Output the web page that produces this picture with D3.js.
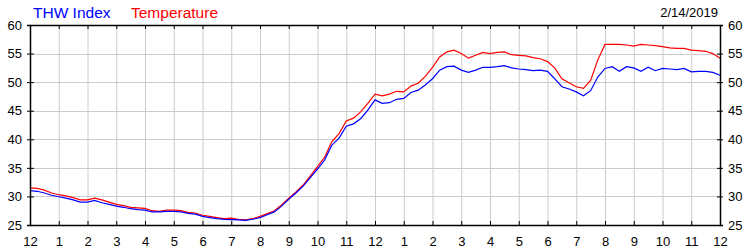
<!DOCTYPE html>
<html>
<head>
<meta charset="utf-8">
<title>THW Index and Temperature</title>
<script src="https://cdnjs.cloudflare.com/ajax/libs/d3/7.8.5/d3.min.js"></script>
<style>
    body { margin: 0; background: #fff; }
    svg text { font-family: Arial, "Liberation Sans", sans-serif; }
</style>
</head>
<body>
<div id="chart"></div>
<script>
    // readings every 15 minutes, midnight to midnight
    var hours = d3.range(0, 24.01, 0.25);
    var tickLabels = ["12", "1", "2", "3", "4", "5", "6", "7", "8", "9", "10", "11",
        "12", "1", "2", "3", "4", "5", "6", "7", "8", "9", "10", "11", "12"];
    var yTicks = [25, 30, 35, 40, 45, 50, 55, 60];

    var temperature = [
        31.5, 31.4, 31.1, 30.6, 30.3, 30.1, 29.8, 29.4, 29.4, 29.7, 29.4, 29.0,
        28.6, 28.4, 28.1, 28.0, 27.9, 27.5, 27.4, 27.6, 27.6, 27.5, 27.2, 27.1,
        26.7, 26.5, 26.3, 26.1, 26.2, 26.0, 25.9, 26.1, 26.5, 27.0, 27.5, 28.5,
        29.7, 30.8, 32.0, 33.6, 35.2, 36.9, 39.6, 41.0, 43.2, 43.7, 44.8, 46.3,
        47.9, 47.6, 47.9, 48.4, 48.3, 49.3, 49.8, 51.0, 52.6, 54.4, 55.3, 55.6,
        55.0, 54.2, 54.7, 55.2, 55.0, 55.2, 55.3, 54.8, 54.7, 54.6, 54.3, 54.1,
        53.6, 52.5, 50.6, 49.9, 49.2, 48.9, 50.3, 53.9, 56.6, 56.6, 56.6, 56.5,
        56.3, 56.6, 56.5, 56.4, 56.2, 56.0, 55.9, 55.9, 55.6, 55.5, 55.4, 55.0,
        54.2
    ];
    var thwIndex = [
        31.0, 30.9, 30.6, 30.2, 29.95, 29.7, 29.4, 29.0, 29.0, 29.3, 28.9, 28.6,
        28.3, 28.1, 27.85, 27.7, 27.6, 27.3, 27.3, 27.4, 27.4, 27.3, 27.05, 26.9,
        26.5, 26.3, 26.1, 26.0, 25.95, 25.9, 25.8, 26.0, 26.3, 26.8, 27.3, 28.3,
        29.5, 30.6, 31.8, 33.3, 34.8, 36.4, 39.0, 40.2, 42.3, 42.7, 43.6, 45.1,
        46.9, 46.3, 46.4, 47.0, 47.15, 48.2, 48.6, 49.5, 50.6, 52.1, 52.7, 52.8,
        52.1, 51.7, 52.1, 52.6, 52.6, 52.7, 52.9, 52.5, 52.3, 52.2, 52.0, 52.1,
        51.9, 50.6, 49.2, 48.8, 48.3, 47.6, 48.5, 50.9, 52.4, 52.7, 51.9, 52.7,
        52.5, 51.9, 52.6, 52.0, 52.4, 52.3, 52.2, 52.4, 51.8, 51.9, 51.9, 51.7,
        51.2
    ];

    var w = 750, h = 250;
    var margin = { top: 25, right: 30, bottom: 25, left: 30 };
    var width = w - margin.left - margin.right,
        height = h - margin.top - margin.bottom;

    var x = d3.scaleLinear().domain([0, 24]).range([0, width]);
    var y = d3.scaleLinear().domain([25, 60]).range([height, 0]);

    var svg = d3.select("#chart").append("svg")
        .attr("width", w)
        .attr("height", h);

    var g = svg.append("g")
        .attr("transform", "translate(" + margin.left + "," + margin.top + ")");

    // grid
    g.append("g").selectAll("line.vg")
        .data(d3.range(1, 24))
        .enter().append("line")
        .attr("x1", function(d) { return x(d) + 0.5; })
        .attr("x2", function(d) { return x(d) + 0.5; })
        .attr("y1", 0).attr("y2", height)
        .attr("stroke", "#cccccc");
    g.append("g").selectAll("line.hg")
        .data(yTicks.slice(1, -1))
        .enter().append("line")
        .attr("y1", function(d) { return Math.round(y(d)) + 0.5; })
        .attr("y2", function(d) { return Math.round(y(d)) + 0.5; })
        .attr("x1", 0).attr("x2", width)
        .attr("stroke", "#cccccc");

    // series
    var line = d3.line()
        .x(function(d, i) { return x(hours[i]); })
        .y(function(d) { return y(d); });

    g.append("path").datum(temperature)
        .attr("d", line)
        .attr("fill", "none")
        .attr("stroke", "#ff0000")
        .attr("stroke-width", 1.2);
    g.append("path").datum(thwIndex)
        .attr("d", line)
        .attr("fill", "none")
        .attr("stroke", "#0000ff")
        .attr("stroke-width", 1.2);

    // axes
    var bottom = g.append("g")
        .attr("transform", "translate(0," + height + ")")
        .call(d3.axisBottom(x).tickValues(d3.range(0, 25))
            .tickSizeInner(-4).tickSizeOuter(0)
            .tickFormat(function(d) { return tickLabels[d]; }));
    bottom.selectAll("text").attr("dy", "1.35em");

    g.append("g")
        .call(d3.axisTop(x).tickValues(d3.range(0, 25))
            .tickSizeInner(-4).tickSizeOuter(0).tickFormat(""));

    var left = g.append("g")
        .call(d3.axisLeft(y).tickValues(yTicks).tickSizeOuter(0).tickSize(3).tickPadding(5));
    left.selectAll(".tick line").attr("x2", 4).attr("x1", -3);

    var right = g.append("g")
        .attr("transform", "translate(" + width + ",0)")
        .call(d3.axisRight(y).tickValues(yTicks).tickSizeOuter(0).tickSize(3).tickPadding(5));
    right.selectAll(".tick line").attr("x1", -3).attr("x2", 3);

    svg.selectAll(".domain").attr("stroke", "#000").attr("stroke-width", 1.5);
    svg.selectAll(".tick line").attr("stroke", "#000");
    svg.selectAll(".tick text")
        .attr("font-size", "13px")
        .attr("font-family", "Arial, 'Liberation Sans', sans-serif")
        .attr("fill", "#000");

    // titles
    svg.append("text").attr("x", 33).attr("y", 17.5)
        .attr("font-size", "15.5px").attr("fill", "#0000ff").text("THW Index");
    svg.append("text").attr("x", 131).attr("y", 17.5)
        .attr("font-size", "15.5px").attr("fill", "#ff0000").text("Temperature");
    svg.append("text").attr("x", 718).attr("y", 17)
        .attr("text-anchor", "end")
        .attr("font-size", "13px").attr("fill", "#000").text("2/14/2019");
</script>
</body>
</html>
